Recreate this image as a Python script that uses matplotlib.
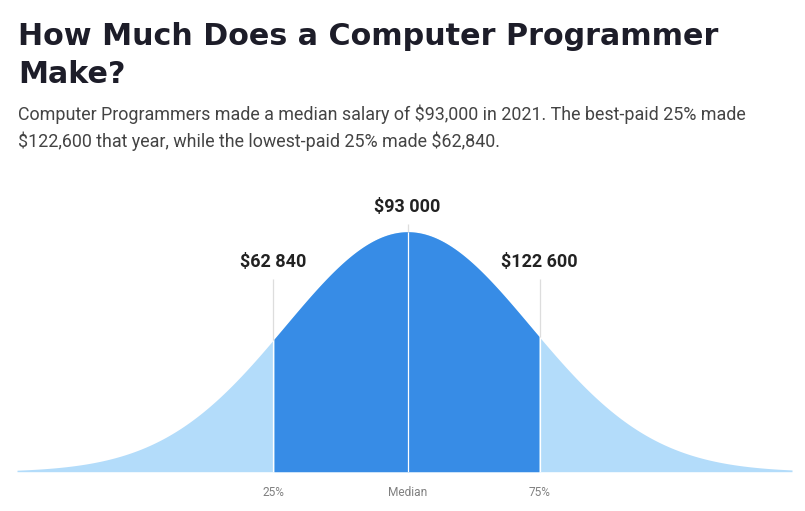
import matplotlib
matplotlib.use("Agg")
import matplotlib.pyplot as plt
import numpy as np

plt.rcParams["text.parse_math"] = False

# salary figures (2021)
p25 = 62840
median = 93000
p75 = 122600
spread = 27500  # width of the drawn bell

tick_pos = [p25, median, p75]
tick_labels = ["25%", "Median", "75%"]
value_labels = ["$62 840", "$93 000", "$122 600"]

title = "How Much Does a Computer Programmer\nMake?"
subtitle = ("Computer Programmers made a median salary of $93,000 in 2021. The best-paid 25% made\n"
            "$122,600 that year, while the lowest-paid 25% made $62,840.")

dark = "#378ce6"
light = "#b3dcfa"

W, H = 805, 511
fig = plt.figure(figsize=(W / 100, H / 100), dpi=100)

fig.text(18 / W, 1 - 22 / H, title, fontsize=21.7, fontweight="bold", family="DejaVu Sans",
         color="#1d1d29", va="top", ha="left", linespacing=1.4)
fig.text(18 / W, 1 - 105 / H, subtitle, fontsize=12.9, family="Roboto",
         color="#444444", va="top", ha="left", linespacing=1.45)

base_px, peak_px, top_px = 471.7, 231.7, 180
ax = fig.add_axes([17 / W, (H - base_px) / H, 775 / W, (base_px - top_px) / H])
xmin, xmax = 5420, 179175
ax.set_xlim(xmin, xmax)
ax.set_ylim(0, (base_px - top_px) / (base_px - peak_px))

x = np.linspace(xmin, xmax, 800)
y = np.exp(-0.5 * ((x - median) / spread) ** 2)
ax.fill_between(x, 0, y, color=light, lw=0)
mid = (x >= p25) & (x <= p75)
ax.fill_between(x[mid], 0, y[mid], color=dark, lw=0)

def bell(v):
    return np.exp(-0.5 * ((v - median) / spread) ** 2)

line_tops = [0.803, 1.032, 0.803]
for v, top, lab in zip(tick_pos, line_tops, value_labels):
    h = bell(v)
    ax.vlines(v, 0, h, color="white", lw=0.9)
    ax.vlines(v, h, top, color="#dddddd", lw=0.9)
    ax.text(v, top + 0.035, lab, ha="center", va="bottom", fontsize=13,
            fontweight="bold", family="Roboto", color="#222222")

ax.set_xticks(tick_pos)
ax.set_xticklabels(tick_labels, fontsize=8.6, family="Roboto", color="#808080")
ax.tick_params(axis="x", length=0, pad=10.5)
ax.set_yticks([])
for s in ax.spines.values():
    s.set_visible(False)

fig.savefig("out.png", dpi=100)
